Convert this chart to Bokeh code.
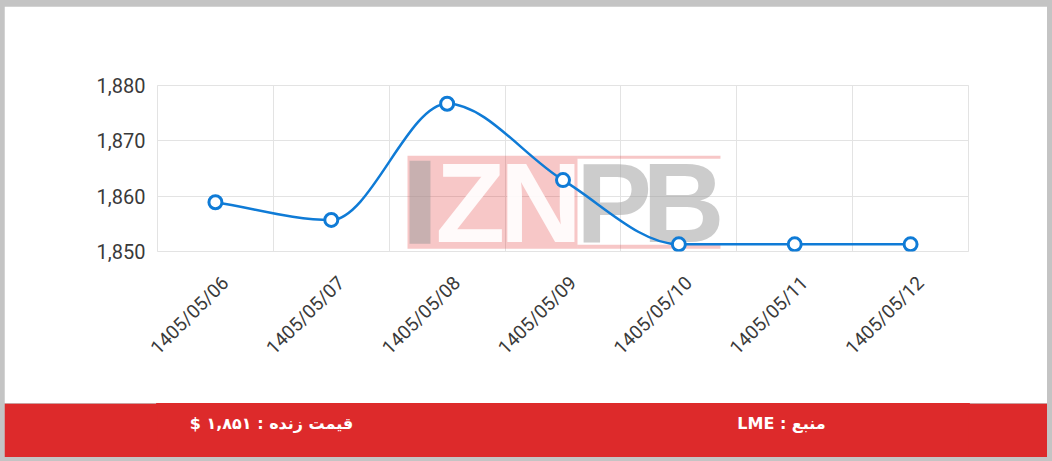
from math import pi

import numpy as np
from bokeh.core.properties import value
from bokeh.embed import file_html
from bokeh.layouts import column
from bokeh.models import (CustomJSTickFormatter, FixedTicker, Label,
                          NumeralTickFormatter, Range1d)
from bokeh.plotting import figure
from bokeh.resources import INLINE

# data
dates = ["1405/05/06", "1405/05/07", "1405/05/08", "1405/05/09",
         "1405/05/10", "1405/05/11", "1405/05/12"]
prices = [1858.9, 1855.7, 1876.7, 1862.9, 1851.3, 1851.3, 1851.3]
y_ticks = [1850, 1860, 1870, 1880]
source_name = "LME"

BLUE = "#0f7bd6"
RED = "#dd2a2b"
GRID = "#e3e3e3"
W, LEFT, RIGHT = 1043, 153, 79

xs = np.arange(len(prices)) + 0.5
ys = np.array(prices)

# monotone cubic (Fritsch-Carlson) bezier segments, like chart.js "monotone"
d = np.diff(ys) / np.diff(xs)
m = np.zeros(len(ys))
m[0], m[-1] = d[0], d[-1]
for k in range(1, len(ys) - 1):
    if np.sign(d[k - 1]) == np.sign(d[k]) and d[k] != 0:
        m[k] = (d[k - 1] + d[k]) / 2
for k in range(len(d)):
    if d[k] == 0:
        m[k] = m[k + 1] = 0
        continue
    a, b = m[k] / d[k], m[k + 1] / d[k]
    s = a * a + b * b
    if s > 9:
        t = 3 / np.sqrt(s)
        m[k], m[k + 1] = a * t * d[k], b * t * d[k]
dx = np.diff(xs) / 3

p = figure(width=W, height=397, x_range=Range1d(0, 7),
           y_range=Range1d(y_ticks[0], y_ticks[-1]),
           toolbar_location=None, output_backend="svg",
           min_border_left=LEFT, min_border_right=RIGHT,
           min_border_top=79, min_border_bottom=152,
           outline_line_color=GRID, background_fill_color="white",
           border_fill_color="white")

# labels sit a little right of the category centre, as rotated chart.js labels do
p.xaxis.ticker = FixedTicker(ticks=list(xs + 0.085))
p.xaxis.formatter = CustomJSTickFormatter(args=dict(labels=dates),
                                          code="return labels[Math.floor(tick)]")
p.xaxis.major_label_orientation = pi / 4
p.yaxis.ticker = FixedTicker(ticks=y_ticks)
p.yaxis.formatter = NumeralTickFormatter(format="0,0")
for ax in (p.xaxis, p.yaxis):
    ax.axis_line_color = None
    ax.major_tick_line_color = None
    ax.major_tick_out = 0
    ax.minor_tick_line_color = None
    ax.major_label_text_font = "Roboto"
    ax.major_label_text_color = "#3a3a3a"
p.xaxis.major_label_text_font_size = "19px"
p.yaxis.major_label_text_font_size = "20px"
p.yaxis.major_label_standoff = 12
p.xaxis.major_label_standoff = 28
p.xgrid.ticker = FixedTicker(ticks=list(range(len(dates) + 1)))
p.grid.grid_line_color = GRID

# watermark logo
p.quad(left=[2.158, 3.625, 3.625], right=[3.625, 4.859, 4.859],
       bottom=[1850.5, 1866.75, 1850.5], top=[1867.3, 1867.3, 1851.2],
       fill_color="#e02020", fill_alpha=0.25, line_color=None)
p.quad(left=[2.175], right=[2.356], bottom=[1851.4], top=[1866.4],
       fill_color="#9a9a9a", fill_alpha=0.5, line_color=None)
logo = dict(text_font=value("Liberation Sans"), text_font_style="bold",
            text_font_size="114px", text_align="center", text_baseline="middle")
p.text(x=[2.70, 3.31], y=[1858.9, 1858.9], text=["Z", "N"],
       text_color="white", text_alpha=0.9, **logo)
p.text(x=[3.94, 4.54], y=[1858.9, 1858.9], text=["P", "B"],
       text_color="#9a9a9a", text_alpha=0.5, **logo)

p.bezier(x0=xs[:-1], y0=ys[:-1], x1=xs[1:], y1=ys[1:],
         cx0=xs[:-1] + dx, cy0=ys[:-1] + m[:-1] * dx,
         cx1=xs[1:] - dx, cy1=ys[1:] - m[1:] * dx,
         line_color=BLUE, line_width=2.5)
p.scatter(xs, ys, size=13, fill_color="white", line_color=BLUE, line_width=3)

# red footer; its frame lines up with the chart frame, x data = canvas px
fa = str.maketrans("0123456789", "۰۱۲۳۴۵۶۷۸۹")
live = f"{round(prices[-1]):,}".translate(fa)

f = figure(width=W, height=54, x_range=Range1d(LEFT, W - RIGHT), y_range=Range1d(0, 54),
           toolbar_location=None, output_backend="svg",
           min_border_left=LEFT, min_border_right=RIGHT,
           min_border_top=0, min_border_bottom=0,
           x_axis_type=None, y_axis_type=None,
           outline_line_color=RED, outline_line_width=3,
           background_fill_color=RED, border_fill_color=RED)
f.grid.visible = False
f.quad(left=[LEFT - 10], right=[W], bottom=[-10], top=[64],
       fill_color=RED, line_color=None)
for x, txt in [(267, f"$ {live} : قیمت زنده"), (777, f"{source_name} : منبع")]:
    f.add_layout(Label(x=x, y=34, text=txt, text_align="center",
                       text_baseline="middle", text_color="white",
                       text_font="DejaVu Sans", text_font_style="bold",
                       text_font_size="16px"))

html = file_html(column(p, f, spacing=0), INLINE)
html = html.replace("</head>", "<style>body{background:#c4c4c4 !important;"
                    "padding:6px 0 0 4px !important;}</style></head>", 1)
open("out.html", "w").write(html)
